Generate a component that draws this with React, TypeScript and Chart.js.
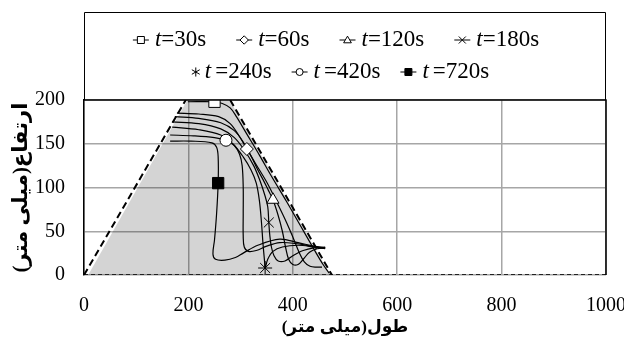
import React, { useEffect, useRef } from 'react';
import { Chart, registerables } from 'chart.js';

Chart.register(...registerables);

// ---------- data ----------
const X_MIN = 0, X_MAX = 1000, X_STEP = 200;
const Y_MIN = 0, Y_MAX = 200, Y_STEP = 50;
const X_TITLE = 'طول(میلی متر)';
const Y_TITLE = 'ارتفاع(میلی متر)';
const seriesNames = ['30s', '60s', '120s', '180s', '240s', '420s', '720s'];

// shaded region (initial body) and its dashed outline
const shadeX = [8, 197, 280, 472];
const shadeY = [0, 199, 199, 0];
const leftBoundX = [0, 195];
const leftBoundY = [0, 200];
const rightBoundX = [280, 475];
const rightBoundY = [200, 0];
const baseX = [0, 1000];
const baseY = [0, 0];

// profiles
const t30X = [199, 249, 265, 280, 292, 312, 336, 360, 388, 415, 440, 458, 470];
const t30Y = [198, 198, 196, 191, 181, 161, 137, 112, 84, 56, 30, 12, 2];

const t60X = [178, 220, 258, 280, 296, 312, 330, 352, 372, 388, 401, 412, 422, 433, 446, 456];
const t60Y = [185, 184, 181, 173, 160, 144, 126, 104, 80, 60, 42, 26, 15, 10, 9, 9];

const t120X = [174, 220, 262, 288, 305, 320, 333, 343, 353, 362, 372, 380, 386, 392, 400, 410, 420, 432, 447, 462];
const t120Y = [181, 179, 174, 165, 152, 136, 120, 109, 97, 86, 68, 50, 32, 18, 12, 12, 18, 26, 30, 31];

const t180X = [169, 220, 262, 288, 308, 325, 337, 346, 352, 354, 356, 359, 364, 372, 385, 400, 420, 440, 462];
const t180Y = [175, 173, 167, 157, 142, 125, 108, 92, 78, 60, 45, 32, 22, 16, 16, 22, 28, 31, 32];

const t240X = [169, 220, 262, 285, 305, 320, 330, 336, 340, 343, 346, 347, 352, 362, 380, 410, 440, 462];
const t240Y = [169, 166, 160, 150, 135, 120, 105, 85, 60, 35, 15, 8, 18, 27, 32, 34, 32, 30];

const t420X = [165, 210, 250, 272, 288, 298, 303, 305, 305, 305, 307, 315, 330, 350, 375, 405, 435, 462];
const t420Y = [160, 159, 157, 154, 148, 138, 125, 100, 70, 45, 32, 27, 28, 33, 37, 36, 33, 31];

const t720X = [165, 205, 245, 254, 257, 257, 254, 250, 247, 252, 270, 290, 305, 333, 375, 410, 440, 462];
const t720Y = [153, 153, 151, 146, 135, 105, 70, 40, 24, 18, 17, 20, 25, 34, 41, 37, 33, 31];

// marker positions (one marker per profile)
const markerX = [250, 312, 362, 354, 347, 272, 257];
const markerY = [198, 144, 86, 60, 8, 154, 105];

// ---------- helpers ----------
const pts = (xs: number[], ys: number[]) => xs.map((x, i) => ({ x, y: ys[i] }));

type MStyle = 'rect' | 'diamond' | 'triangle' | 'x' | 'star' | 'circle' | 'rectFilled';
const markerStyles: MStyle[] = ['rect', 'diamond', 'triangle', 'x', 'star', 'circle', 'rectFilled'];
const hasSeg = [true, true, true, true, false, true, true];

function drawMarker(ctx: CanvasRenderingContext2D, style: MStyle, x: number, y: number, r: number) {
  ctx.save();
  ctx.strokeStyle = '#000';
  ctx.fillStyle = style === 'rectFilled' ? '#000' : '#fff';
  ctx.lineWidth = 1;
  ctx.beginPath();
  switch (style) {
    case 'rect':
    case 'rectFilled':
      ctx.rect(x - r, y - r, 2 * r, 2 * r);
      ctx.fill();
      ctx.stroke();
      break;
    case 'diamond':
      ctx.moveTo(x, y - r * 1.2);
      ctx.lineTo(x + r * 1.2, y);
      ctx.lineTo(x, y + r * 1.2);
      ctx.lineTo(x - r * 1.2, y);
      ctx.closePath();
      ctx.fill();
      ctx.stroke();
      break;
    case 'triangle':
      ctx.moveTo(x, y - r * 1.1);
      ctx.lineTo(x + r * 1.1, y + r * 0.8);
      ctx.lineTo(x - r * 1.1, y + r * 0.8);
      ctx.closePath();
      ctx.fill();
      ctx.stroke();
      break;
    case 'x':
      ctx.moveTo(x - r, y - r); ctx.lineTo(x + r, y + r);
      ctx.moveTo(x + r, y - r); ctx.lineTo(x - r, y + r);
      ctx.stroke();
      break;
    case 'star':
      for (let k = 0; k < 3; k++) {
        const a = Math.PI / 2 + (k * Math.PI) / 3;
        ctx.moveTo(x - Math.cos(a) * r * 1.3, y - Math.sin(a) * r * 1.3);
        ctx.lineTo(x + Math.cos(a) * r * 1.3, y + Math.sin(a) * r * 1.3);
      }
      ctx.stroke();
      break;
    case 'circle':
      ctx.arc(x, y, r, 0, Math.PI * 2);
      ctx.fill();
      ctx.stroke();
      break;
  }
  ctx.restore();
}

const SERIF = "'Liberation Serif', 'Times New Roman', serif";

const decorPlugin = {
  id: 'decor',
  afterDraw(chart: any) {
    const { ctx, chartArea } = chart;
    const { left, right, top, bottom } = chartArea;
    ctx.save();
    // plot frame top & right
    ctx.strokeStyle = '#000';
    ctx.lineWidth = 1.5;
    ctx.beginPath();
    ctx.moveTo(left, top);
    ctx.lineTo(right, top);
    ctx.lineTo(right, bottom);
    ctx.stroke();
    // legend box
    const boxTop = 12.5;
    ctx.lineWidth = 1;
    ctx.beginPath();
    ctx.moveTo(left + 0.5, top);
    ctx.lineTo(left + 0.5, boxTop);
    ctx.lineTo(right - 0.5, boxTop);
    ctx.lineTo(right - 0.5, top);
    ctx.stroke();

    // legend rows
    const rows = [[0, 1, 2, 3], [4, 5, 6]];
    const rowY = [40, 72];
    const rowGap = [30, 20];
    const rowShift = [-9, -5];
    const fs = 23;
    const itFont = `italic ${fs}px ${SERIF}`;
    const rgFont = `${fs}px ${SERIF}`;
    rows.forEach((row, ri) => {
      const cx = (left + right) / 2 + rowShift[ri];
      const segOf = (i: number) => (hasSeg[i] ? 16 : 10);
      const gapOf = (i: number) => (hasSeg[i] ? 6 : 4);
      const widths = row.map((i) => {
        ctx.font = itFont;
        const tw = ctx.measureText('t').width + (ri === 1 ? 4 : 0);
        ctx.font = rgFont;
        return segOf(i) + gapOf(i) + tw + ctx.measureText('=' + seriesNames[i]).width;
      });
      const total = widths.reduce((a, b) => a + b, 0) + rowGap[ri] * (row.length - 1);
      let x = cx - total / 2;
      const y = rowY[ri];
      row.forEach((i, k) => {
        const seg = segOf(i);
        if (hasSeg[i]) {
          ctx.strokeStyle = '#000';
          ctx.lineWidth = 1;
          ctx.beginPath();
          ctx.moveTo(x, y);
          ctx.lineTo(x + seg, y);
          ctx.stroke();
        }
        drawMarker(ctx, markerStyles[i], x + seg / 2, y, 3.5);
        let tx = x + seg + gapOf(i);
        ctx.fillStyle = '#000';
        ctx.textAlign = 'left';
        ctx.textBaseline = 'middle';
        ctx.font = itFont;
        ctx.fillText('t', tx, y);
        tx += ctx.measureText('t').width + (ri === 1 ? 4 : 0);
        ctx.font = rgFont;
        ctx.fillText('=' + seriesNames[i], tx, y);
        x += widths[k] + rowGap[ri];
      });
    });

    // axis titles (Persian, RTL)
    ctx.fillStyle = '#000';
    (ctx as any).direction = 'rtl';
    ctx.textAlign = 'center';
    ctx.textBaseline = 'middle';
    ctx.font = `bold 17px ${SERIF}, 'DejaVu Sans'`;
    ctx.fillText(X_TITLE, (left + right) / 2, 328);
    ctx.translate(22, (top + bottom) / 2);
    ctx.rotate(-Math.PI / 2);
    ctx.font = `bold 21px ${SERIF}, 'DejaVu Sans'`;
    ctx.fillText(Y_TITLE, 0, 0);
    ctx.restore();
  },
};

const curveDs = (xs: number[], ys: number[]) => ({
  data: pts(xs, ys),
  borderColor: '#000',
  borderWidth: 1.2,
  pointRadius: 0,
  tension: 0.35,
  fill: false,
  order: 5,
});

const pointCfg: any[] = [
  { pointStyle: 'rect', pointRadius: 8, pointBackgroundColor: '#fff' },
  { pointStyle: 'rectRot', pointRadius: 6.5, pointBackgroundColor: '#fff' },
  { pointStyle: 'triangle', pointRadius: 7, pointBackgroundColor: '#fff' },
  { pointStyle: 'crossRot', pointRadius: 7, pointBackgroundColor: '#fff' },
  { pointStyle: 'star', pointRadius: 7, pointBackgroundColor: '#fff' },
  { pointStyle: 'circle', pointRadius: 6, pointBackgroundColor: '#fff' },
  { pointStyle: 'rect', pointRadius: 8, pointBackgroundColor: '#000' },
];

export default function App() {
  const ref = useRef<HTMLCanvasElement | null>(null);

  useEffect(() => {
    document.body.style.margin = '0';
    if (!ref.current) return;
    Chart.defaults.font.family = SERIF;
    const curves = [
      [t30X, t30Y], [t60X, t60Y], [t120X, t120Y], [t180X, t180Y],
      [t240X, t240Y], [t420X, t420Y], [t720X, t720Y],
    ];
    const datasets: any[] = [
      {
        data: pts(shadeX, shadeY),
        fill: 'origin',
        backgroundColor: 'rgba(0,0,0,0.17)',
        borderWidth: 0,
        pointRadius: 0,
        tension: 0,
        order: 20,
      },
      { data: pts(leftBoundX, leftBoundY), borderColor: '#000', borderWidth: 2, borderDash: [7, 4], pointRadius: 0, fill: false, order: 15 },
      { data: pts(rightBoundX, rightBoundY), borderColor: '#000', borderWidth: 2, borderDash: [7, 4], pointRadius: 0, fill: false, order: 15 },
      { data: pts(baseX, baseY), borderColor: '#222', borderWidth: 2, borderDash: [4, 3], pointRadius: 0, fill: false, order: 15 },
      ...curves.map(([xs, ys]) => curveDs(xs, ys)),
      ...markerX.map((mx, i) => ({
        data: [{ x: mx, y: markerY[i] }],
        showLine: false,
        borderColor: '#000',
        pointBorderColor: '#000',
        pointBorderWidth: 1,
        order: 1,
        ...pointCfg[i],
      })),
    ];

    const chart = new Chart(ref.current, {
      type: 'line',
      data: { datasets },
      plugins: [decorPlugin],
      options: {
        animation: false,
        responsive: false,
        layout: { padding: { top: 100, right: 18, left: 0, bottom: 0 } },
        plugins: { legend: { display: false }, tooltip: { enabled: false } },
        scales: {
          x: {
            type: 'linear',
            min: X_MIN,
            max: X_MAX,
            ticks: {
              stepSize: X_STEP,
              color: '#000',
              font: { size: 20, family: SERIF },
              padding: 19,
              maxRotation: 0,
              callback: (v: any) => String(v),
            },
            grid: { color: '#a6a6a6', lineWidth: 1.5, drawTicks: false },
            border: { display: false },
            afterFit: (s: any) => { s.height = 77; s.paddingLeft = 0; s.paddingRight = 0; },
          },
          y: {
            type: 'linear',
            min: Y_MIN,
            max: Y_MAX,
            ticks: { stepSize: Y_STEP, color: '#000', font: { size: 20, family: SERIF }, padding: 19, callback: (v: any) => String(v) },
            grid: { color: '#a6a6a6', lineWidth: 1.5, drawTicks: false },
            border: { display: true, color: '#000', width: 1.5 },
            afterFit: (s: any) => { s.width = 84; s.paddingTop = 0; s.paddingBottom = 0; },
          },
        },
      },
    });
    return () => chart.destroy();
  }, []);

  return (
    <div style={{ width: 624, height: 352 }}>
      <canvas ref={ref} width={624} height={352} style={{ display: 'block' }} />
    </div>
  );
}
